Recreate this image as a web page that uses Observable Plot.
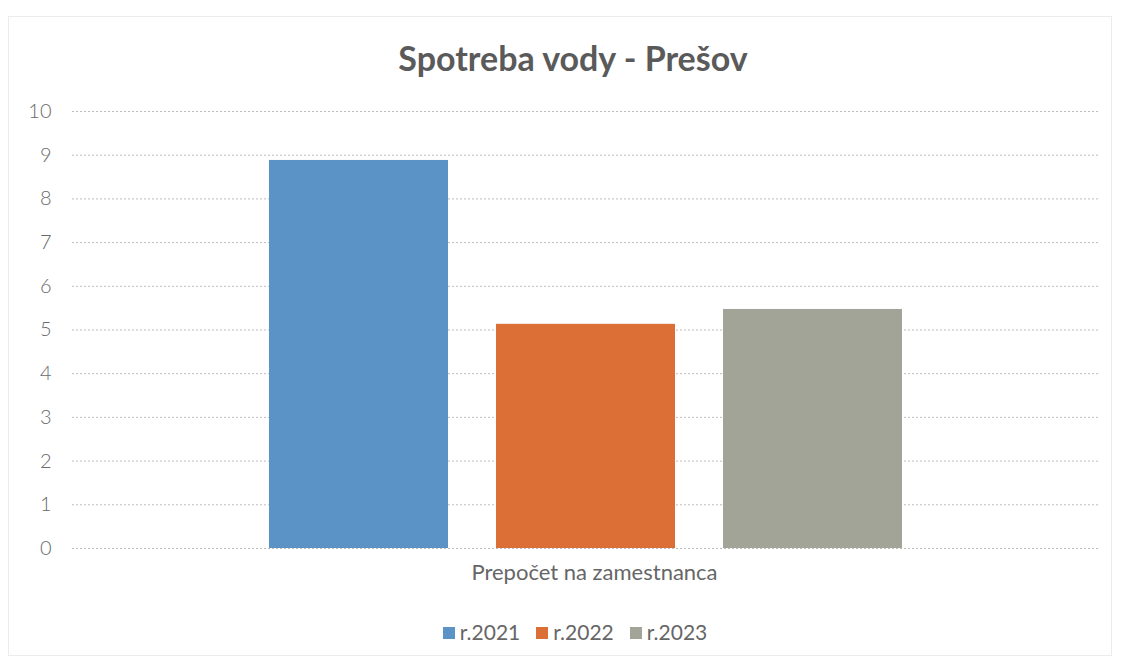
<!DOCTYPE html>
<html>
<head>
<meta charset="utf-8">
<script src="https://cdn.jsdelivr.net/npm/d3@7"></script>
<script src="https://cdn.jsdelivr.net/npm/@observablehq/plot@0.6"></script>
<style>
  html, body { margin: 0; padding: 0; background: #fff; }
  body { width: 1121px; height: 662px; position: relative; overflow: hidden; font-family: Lato, "Open Sans", sans-serif; }
  #frame { position: absolute; left: 8px; top: 16px; width: 1104px; height: 640px; border: 1px solid #ececec; box-sizing: border-box; }
  #title { position: absolute; left: 0; top: 37px; width: 1146px; text-align: center; font-size: 34px; font-weight: bold; color: #5a5a5a; }
  #chart { position: absolute; left: 0; top: 90px; }
  #legend { position: absolute; left: 0; top: 619px; width: 1150px; text-align: center; font-size: 21px; color: #666; }
  .item { display: inline-block; margin: 0 8px; }
  .sw { display: inline-block; width: 12px; height: 12px; margin-right: 5px; vertical-align: 1px; }
</style>
</head>
<body>
<div id="frame"></div>
<div id="title">Spotreba vody - Prešov</div>
<div id="chart"></div>
<div id="legend"></div>
<script>
const years = ["r.2021", "r.2022", "r.2023"];
const values = [8.88, 5.13, 5.47];
const colors = ["#5b93c6", "#dc6f35", "#a2a497"];
const yTicks = [0, 1, 2, 3, 4, 5, 6, 7, 8, 9, 10];
const categoryLabel = "Prepočet na zamestnanca";

const data = years.map((y, i) => ({year: y, value: values[i]}));

const chart = Plot.plot({
  width: 1121,
  height: 510,
  marginTop: 21,
  marginBottom: 52,
  marginLeft: 72,
  marginRight: 21,
  style: {fontFamily: "Lato, 'Open Sans', sans-serif", fontSize: "19px", color: "#6a6a6a", background: "transparent"},
  x: {domain: years, paddingInner: 0.21, paddingOuter: 0.86, axis: null},
  y: {domain: [0, 10], ticks: yTicks, label: null},
  color: {domain: years, range: colors},
  marks: [
    Plot.gridY(yTicks, {stroke: "#bcbcbc", strokeOpacity: 1, strokeWidth: 1, strokeDasharray: "2,2"}),
    Plot.axisY(yTicks, {tickSize: 0, tickPadding: 21, fontSize: 20, fontWeight: 300, fill: "#6a6a6a", label: null}),
    Plot.barY(data, {x: "year", y: "value", fill: "year"}),
    Plot.text([categoryLabel], {frameAnchor: "bottom", dx: 8, dy: 31, fontSize: 22, fill: "#666", text: d => d})
  ]
});
document.getElementById("chart").appendChild(chart);

const legend = document.getElementById("legend");
years.forEach((y, i) => {
  const item = document.createElement("span");
  item.className = "item";
  const sw = document.createElement("span");
  sw.className = "sw";
  sw.style.background = colors[i];
  item.appendChild(sw);
  item.appendChild(document.createTextNode(y));
  legend.appendChild(item);
});
</script>
</body>
</html>
